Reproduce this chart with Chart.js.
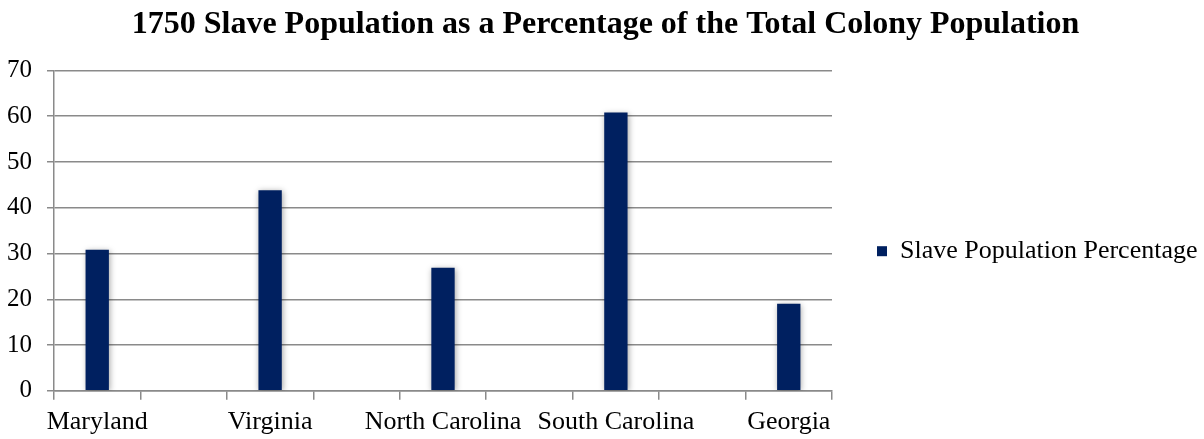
<!DOCTYPE html>
<html>
<head>
<meta charset="utf-8">
<title>1750 Slave Population</title>
<script src="https://cdn.jsdelivr.net/npm/chart.js@4/dist/chart.umd.min.js"></script>
<style>
  html, body { margin: 0; padding: 0; background: #fff; }
  #wrap { width: 1204px; height: 439px; }
</style>
</head>
<body>
<div id="wrap"><canvas id="myChart"></canvas></div>
<script>
// colonies and the share of their 1750 population that was enslaved
var colonies = [ 'Maryland', 'Virginia', 'North Carolina', 'South Carolina', 'Georgia' ];
var slavePct = [ 30.8, 43.8, 26.9, 60.8, 19.0 ];
var yTicks = [ 0, 10, 20, 30, 40, 50, 60, 70 ];

// spreadsheet had a blank row between colonies, so every other slot is empty
var labels = [];
var values = [];
colonies.forEach(function(name, i) {
    if (i > 0) {
        labels.push('');
        values.push(null);
    }
    labels.push(name);
    values.push(slavePct[i]);
});

var serif = "'Liberation Serif', 'Times New Roman', serif";
var gridColor = '#8a8a8a';

// soft drop shadow behind the bars
var barShadow = {
    id : 'barShadow',
    beforeDatasetsDraw : function(chart) {
        var ctx = chart.ctx;
        ctx.save();
        ctx.shadowColor = 'rgba(0, 0, 0, 0.35)';
        ctx.shadowBlur = 6;
        ctx.shadowOffsetX = 1;
        ctx.shadowOffsetY = 1;
    },
    afterDatasetsDraw : function(chart) {
        chart.ctx.restore();
    }
};

Chart.defaults.font.family = serif;
Chart.defaults.color = '#000';

var ctx = document.getElementById('myChart');
var myChart = new Chart(ctx, {
    type : 'bar',
    data : {
        labels : labels,
        datasets : [ {
            label : 'Slave Population Percentage',
            data : values,
            backgroundColor : '#002060',
            borderWidth : 0,
            categoryPercentage : 1,
            barPercentage : 0.27
        } ]
    },
    plugins : [ barShadow ],
    options : {
        responsive : true,
        maintainAspectRatio : false,
        animation : false,
        layout : {
            padding : { left : 7, right : 0, top : 0, bottom : 1 }
        },
        plugins : {
            title : {
                display : true,
                text : '1750 Slave Population as a Percentage of the Total Colony Population',
                font : { family : serif, size : 32, weight : 'bold' },
                color : '#000',
                padding : { top : 6, bottom : 26 }
            },
            legend : {
                position : 'right',
                maxWidth : 372,
                // empty title only pushes the entry down a little
                title : {
                    display : true,
                    text : '',
                    font : { size : 12 },
                    padding : { top : 50, bottom : 0 }
                },
                labels : {
                    boxWidth : 10,
                    boxHeight : 10,
                    padding : 45,
                    font : { family : serif, size : 26 },
                    color : '#000'
                }
            },
            tooltip : { enabled : false }
        },
        scales : {
            x : {
                // tick padding is counted twice by default; keep it only between ticks and labels
                afterFit : function(scale) {
                    scale.paddingLeft = 0;
                    scale.paddingRight = 0;
                    scale.height -= scale.options.ticks.padding;
                },
                grid : {
                    display : true,
                    drawOnChartArea : false,
                    drawTicks : true,
                    tickLength : 9,
                    color : gridColor,
                    lineWidth : 1.5
                },
                border : { color : gridColor, width : 1.5 },
                ticks : {
                    autoSkip : false,
                    maxRotation : 0,
                    minRotation : 0,
                    padding : 7,
                    font : { family : serif, size : 26 },
                    color : '#000'
                }
            },
            y : {
                min : yTicks[0],
                max : yTicks[yTicks.length - 1],
                afterBuildTicks : function(axis) {
                    axis.ticks = yTicks.map(function(v) { return { value : v }; });
                },
                afterFit : function(scale) {
                    scale.width -= scale.options.ticks.padding;
                },
                grid : {
                    color : gridColor,
                    lineWidth : 1.5,
                    tickLength : 7
                },
                border : { color : gridColor, width : 1.5 },
                ticks : {
                    padding : 15,
                    font : { family : serif, size : 25 },
                    color : '#000'
                }
            }
        }
    }
});
</script>
</body>
</html>
